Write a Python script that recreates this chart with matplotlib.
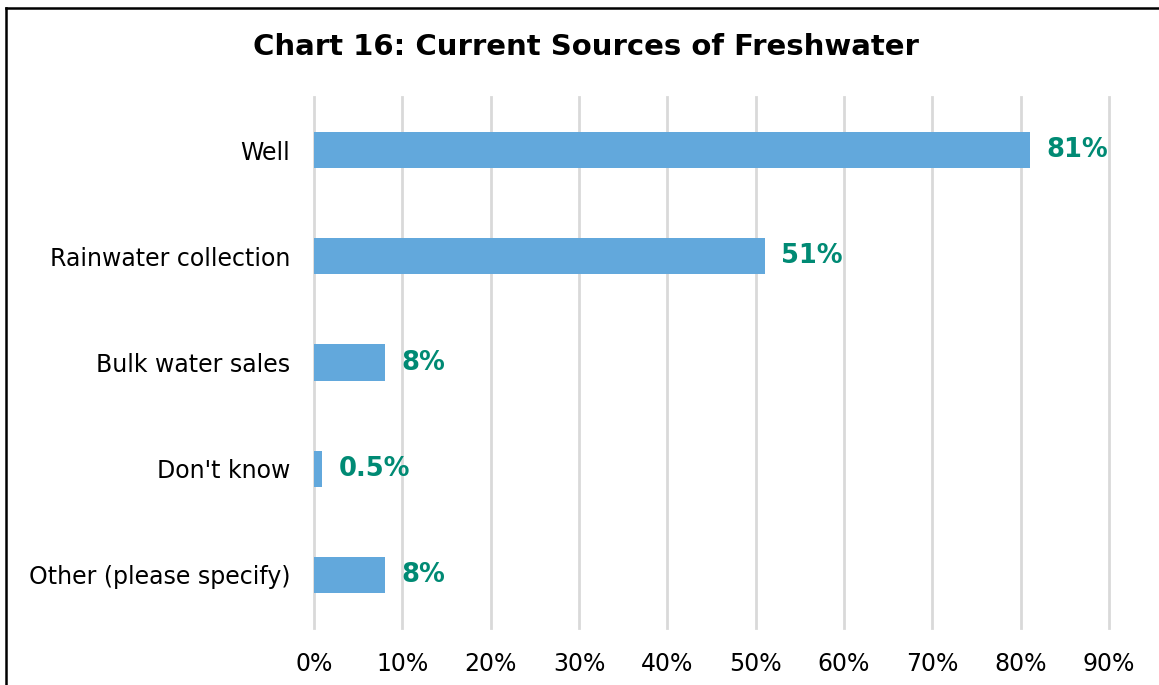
import matplotlib.pyplot as plt
from matplotlib.lines import Line2D

categories = ['Well', 'Rainwater collection', 'Bulk water sales', "Don't know", 'Other (please specify)']
values = [81, 51, 8, 0.9, 8]
labels = ['81%', '51%', '8%', '0.5%', '8%']
ticks = [0, 10, 20, 30, 40, 50, 60, 70, 80, 90]

W, H = 1159, 685
fig = plt.figure(figsize=(W / 100, H / 100), dpi=100)
ax = fig.add_axes([314 / W, 1 - 628 / H, (1109 - 314) / W, (628 - 97) / H])

ypos = list(range(len(categories)))
ax.barh(ypos, values, height=0.34, color='#62A8DC', zorder=2)
for y, v, lab in zip(ypos, values, labels):
    ax.annotate(lab, (v, y), xytext=(12, 0), textcoords='offset points',
                va='center', ha='left', fontsize=18.5, fontweight='bold', color='#008A74')

ax.set_xlim(0, 90)
ax.set_ylim(len(categories) - 0.5, -0.5)
ax.set_xticks(ticks)
ax.set_xticklabels([f'{t}%' for t in ticks])
ax.set_yticks(ypos)
ax.set_yticklabels(categories)
ax.tick_params(axis='both', length=0, labelsize=17, colors='black')
ax.tick_params(axis='x', pad=17)
ax.tick_params(axis='y', pad=17)
ax.grid(axis='x', color='#D9D9D9', linewidth=2, zorder=0)
for gl in ax.get_xgridlines():
    gl.set_clip_on(False)
for s in ax.spines.values():
    s.set_visible(False)

fig.text(586 / W, 1 - 47 / H, 'Chart 16: Current Sources of Freshwater',
         ha='center', va='center', fontsize=21, fontweight='bold')

fig.add_artist(Line2D([6 / W, 6 / W], [0, 1 - 8 / H], color='black', linewidth=1.8, transform=fig.transFigure))
fig.add_artist(Line2D([6 / W, 1], [1 - 8 / H, 1 - 8 / H], color='black', linewidth=1.8, transform=fig.transFigure))

fig.savefig('out.png', dpi=100)
